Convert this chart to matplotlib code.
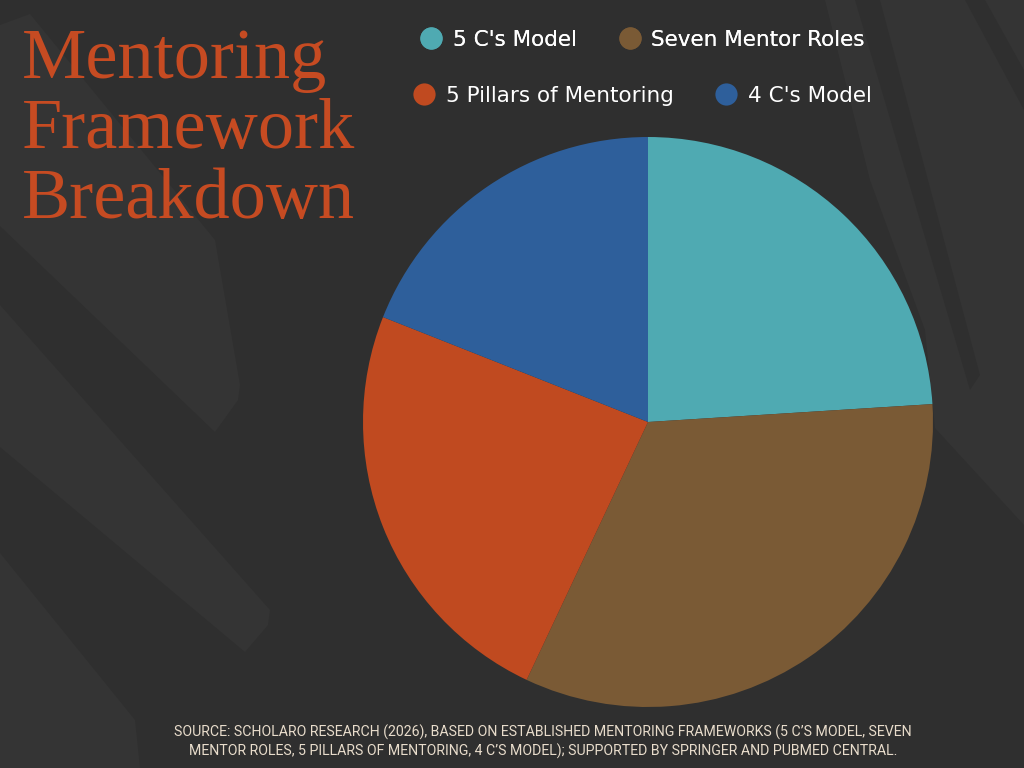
import matplotlib.pyplot as plt
from matplotlib.lines import Line2D
from matplotlib.patches import Polygon

# data
labels = ["5 C's Model", "Seven Mentor Roles", "5 Pillars of Mentoring", "4 C's Model"]
shares = [24, 33, 24, 19]
colors = ["#4faab2", "#7a5a35", "#c04a20", "#2e5f9b"]

title = "Mentoring\nFramework\nBreakdown"
source = ("SOURCE: SCHOLARO RESEARCH (2026), BASED ON ESTABLISHED MENTORING FRAMEWORKS (5 C\u2019S MODEL, SEVEN\n"
          "MENTOR ROLES, 5 PILLARS OF MENTORING, 4 C\u2019S MODEL); SUPPORTED BY SPRINGER AND PUBMED CENTRAL.")

bg = "#2f2f2f"
fig = plt.figure(figsize=(10.24, 7.68), dpi=100, facecolor=bg)


def band(pts, color):
    # decorative brush strokes, given in pixel coords from the top-left
    xy = [(x / 1024, 1 - y / 768) for x, y in pts]
    fig.add_artist(Polygon(xy, closed=True, transform=fig.transFigure,
                           facecolor=color, edgecolor="none", zorder=0))


light = "#343434"
band([(0, 25), (30, 14), (215, 240), (240, 385), (238, 400), (215, 432), (0, 226)], light)
band([(0, 305), (270, 610), (268, 625), (245, 652), (0, 447)], light)
band([(0, 553), (135, 720), (140, 768), (0, 768)], light)
band([(825, 0), (1024, 0), (1024, 525), (935, 428), (925, 330), (870, 180)], light)
band([(855, 0), (880, 0), (980, 375), (970, 390)], bg)
band([(965, 0), (985, 0), (1024, 70), (1024, 110)], bg)

# pie
cx, cy, r = 648 / 1024, 1 - 422 / 768, 285
w, h = 2 * r / 1024, 2 * r / 768
ax = fig.add_axes([cx - w / 2, cy - h / 2, w, h])
ax.set_facecolor("none")
ax.pie(shares, colors=colors, startangle=90, counterclock=False,
       wedgeprops=dict(linewidth=0), radius=1)
ax.set_xlim(-1, 1)
ax.set_ylim(-1, 1)
ax.set_aspect("equal")
ax.axis("off")

# title
fig.text(0.021, 0.963, title, color="#c64b22", fontsize=52, family="Liberation Serif",
         va="top", ha="left", linespacing=1.1)

# legend, two centred rows
def legend_row(idx, y):
    handles = [Line2D([], [], marker="o", linestyle="none", markersize=16,
                      markerfacecolor=colors[i], markeredgecolor="none") for i in idx]
    leg = fig.legend(handles, [labels[i] for i in idx], loc="center",
                     bbox_to_anchor=(0.627, y), ncol=2, frameon=False,
                     handletextpad=0.45, columnspacing=1.9, handlelength=1.1,
                     prop=dict(family="DejaVu Sans", size=15.5))
    for t in leg.get_texts():
        t.set_color("white")
    return leg

l1 = legend_row([0, 1], 1 - 40 / 768)
fig.add_artist(l1)
legend_row([2, 3], 1 - 96 / 768)

# source
fig.text(0.530, 1 - 742 / 768, source, color="#e8dccb", fontsize=10.2,
         family="Roboto", ha="center", va="center", linespacing=1.3)

fig.savefig("out.png", dpi=100, facecolor=bg)
